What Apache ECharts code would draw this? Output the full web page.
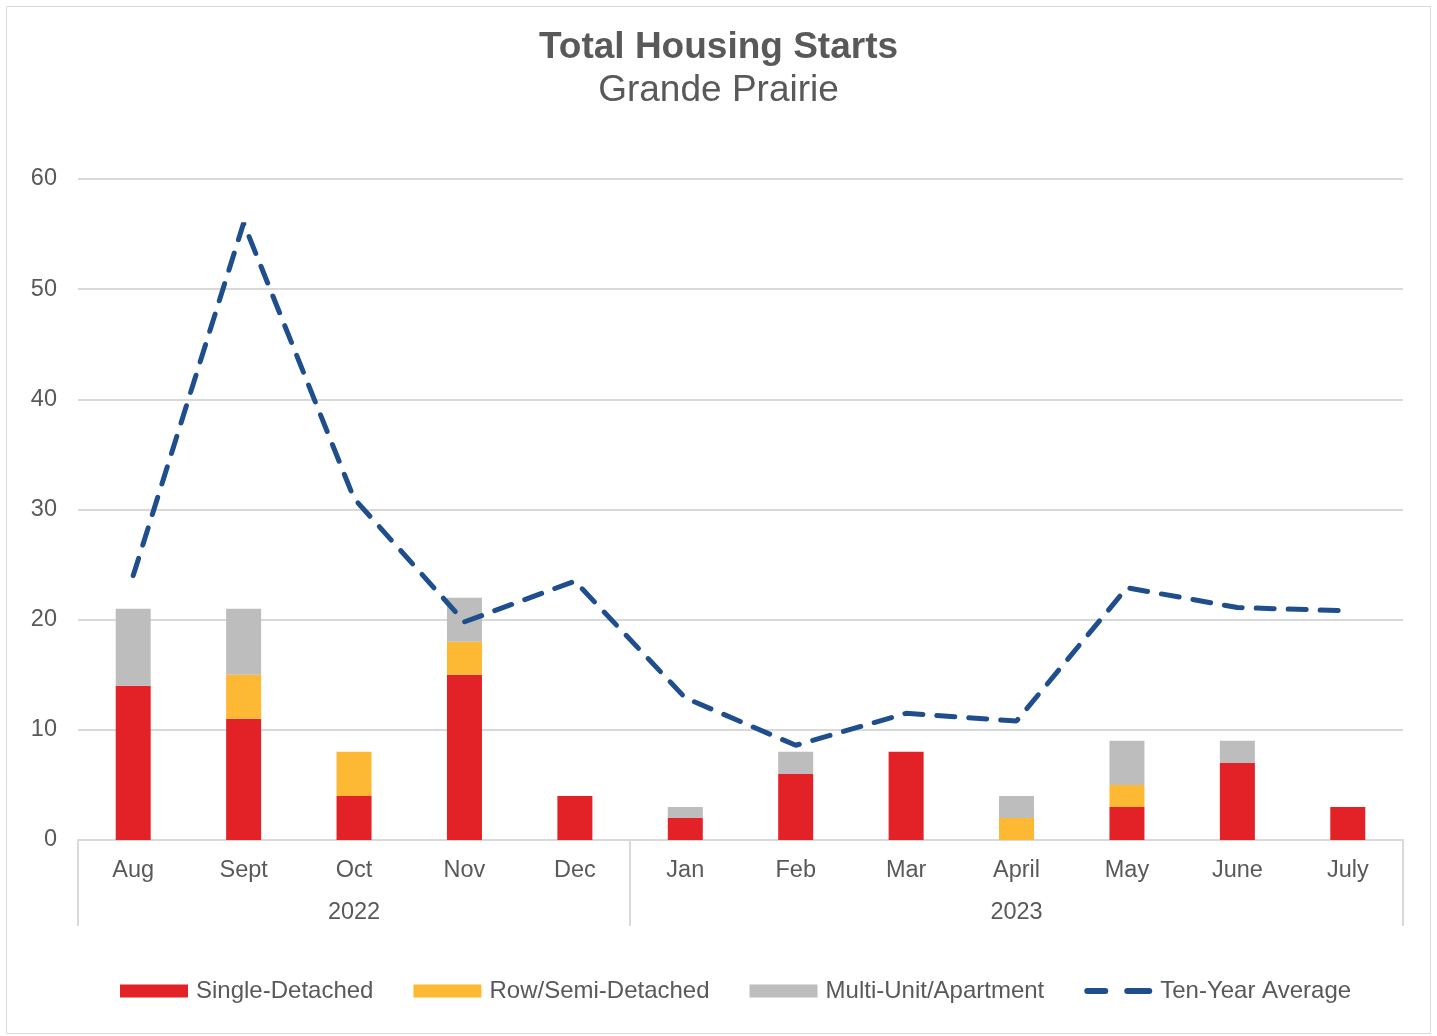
<!DOCTYPE html>
<html><head><meta charset="utf-8">
<script src="https://cdn.jsdelivr.net/npm/echarts@6/dist/echarts.min.js"></script>
<style>html,body{margin:0;padding:0;background:#fff}#c{width:1437px;height:1036px}</style>
</head><body><div id="c"></div>
<script>
const months = ['Aug','Sept','Oct','Nov','Dec','Jan','Feb','Mar','April','May','June','July'];
const yearLabels = ['','','2022','','','','','','2023','','',''];
const groupBoundaries = [0,5,12];
const singleDetached = [14,11,4,15,4,2,6,8,0,3,7,3];
const rowSemi = [0,4,4,3,0,0,0,0,2,2,0,0];
const multiUnit = [7,6,0,4,0,1,2,0,2,4,2,0];
const tenYearAvg = [24,56,31,19.8,23.5,12.9,8.6,11.5,10.8,22.9,21.1,20.8];
const yTicks = {min:0, max:60, interval:10};

const txt = '#595959', font = '"Liberation Sans", Arial, sans-serif';
const lineColor = '#1f4e8c';
const dashIcon = 'path://M0,0M0,13M3,3.5H21A3,3 0 0 1 21,9.5H3A3,3 0 0 1 3,3.5ZM43,3.5H65A3,3 0 0 1 65,9.5H43A3,3 0 0 1 43,3.5Z';
const chart = echarts.init(document.getElementById('c'));
chart.setOption({
  animation:false,
  backgroundColor:'#fff',
  graphic:[{type:'rect', left:4, top:4, shape:{width:1424, height:1027}, style:{fill:'none', stroke:'#d9d9d9', lineWidth:1}, silent:true}],
  title:{text:'Total Housing Starts', subtext:'Grande Prairie', left:'center', top:24, itemGap:6,
    textStyle:{fontFamily:font, fontSize:37, fontWeight:'bold', color:txt},
    subtextStyle:{fontFamily:font, fontSize:37, color:txt}},
  grid:{left:78, right:34, top:179, bottom:196},
  legend:{bottom:28, left:115, itemWidth:68, itemHeight:13, itemGap:40,
    textStyle:{fontFamily:font, fontSize:24, color:txt, padding:[0,0,0,3]},
    data:[{name:'Single-Detached', icon:'rect'},{name:'Row/Semi-Detached', icon:'rect'},
      {name:'Multi-Unit/Apartment', icon:'rect'},
      {name:'Ten-Year Average', icon:dashIcon, itemStyle:{color:lineColor, borderWidth:0}}]},
  xAxis:[{type:'category', data:months, boundaryGap:true,
      axisLine:{lineStyle:{color:'#d9d9d9', width:2}},
      axisTick:{show:true, length:86, lineStyle:{color:'#d9d9d9', width:2},
        interval:(i)=>groupBoundaries.indexOf(i)>=0},
      axisLabel:{interval:0, margin:19, fontFamily:font, fontSize:23.5, color:txt}},
    {type:'category', data:yearLabels, position:'bottom', boundaryGap:true,
      axisLine:{show:false}, axisTick:{show:false},
      axisLabel:{interval:0, margin:61, fontFamily:font, fontSize:23.5, color:txt}}],
  yAxis:{type:'value', min:yTicks.min, max:yTicks.max, interval:yTicks.interval,
    axisLine:{show:false}, axisTick:{show:false},
    splitLine:{lineStyle:{color:'#d9d9d9', width:2}},
    axisLabel:{margin:21, fontFamily:font, fontSize:23.5, color:txt}},
  series:[
    {name:'Single-Detached', type:'bar', stack:'s', barWidth:35, data:singleDetached, itemStyle:{color:'#e32227'}},
    {name:'Row/Semi-Detached', type:'bar', stack:'s', barWidth:35, data:rowSemi, itemStyle:{color:'#fdb933'}},
    {name:'Multi-Unit/Apartment', type:'bar', stack:'s', barWidth:35, data:multiUnit, itemStyle:{color:'#bdbdbd'}},
    {name:'Ten-Year Average', type:'line', data:tenYearAvg, symbol:'none', z:5,
      lineStyle:{color:lineColor, width:5, type:[18,14], cap:'round'}, itemStyle:{color:lineColor}}
  ]
});
</script></body></html>
